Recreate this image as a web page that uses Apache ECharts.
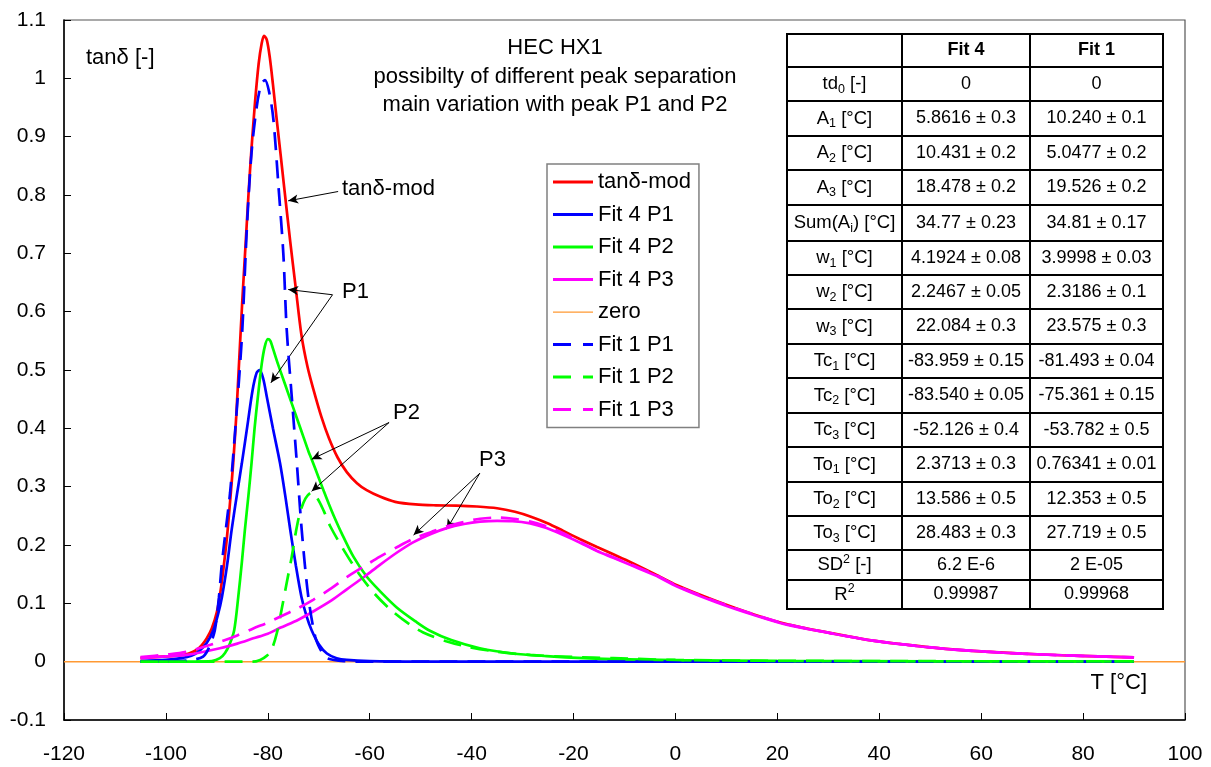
<!DOCTYPE html>
<html>
<head>
<meta charset="utf-8">
<script src="https://cdn.jsdelivr.net/npm/echarts@6/dist/echarts.min.js"></script>
<style>
html,body{margin:0;padding:0;background:#fff;}
#chart{width:1211px;height:767px;}
</style>
</head>
<body>
<div id="chart"></div>
<script>
// ---------------- DATA ----------------
const xTicks = { min: -120, max: 100, interval: 20 };
const yTicks = { min: -0.1, max: 1.1, interval: 0.1 };

const seriesNames = ['tanδ-mod','Fit 4 P1','Fit 4 P2','Fit 4 P3','zero','Fit 1 P1','Fit 1 P2','Fit 1 P3'];

const tanDeltaMod = [[-105,0.006],[-100,0.009],[-97,0.011],[-95.5,0.014],[-94,0.02],[-93,0.028],[-92,0.04],[-91,0.057],[-90,0.085],[-89.3,0.12],[-88.7,0.16],[-88,0.215],[-87.4,0.275],[-86.8,0.34],[-86.2,0.42],[-85.6,0.52],[-85,0.62],[-84.4,0.71],[-83.8,0.80],[-83.2,0.88],[-82.5,0.96],[-81.8,1.025],[-81.2,1.06],[-80.75,1.073],[-80.2,1.066],[-79.6,1.035],[-79,0.99],[-78.25,0.929],[-77.5,0.87],[-76.8,0.814],[-75.6,0.72],[-74.55,0.643],[-73.4,0.56],[-72.2,0.505],[-71,0.465],[-69.5,0.42],[-68,0.383],[-66.3,0.35],[-64.5,0.325],[-62.5,0.306],[-60.6,0.294],[-58,0.283],[-55,0.274],[-51,0.2695],[-47,0.268],[-43,0.2675],[-39,0.266],[-35,0.263],[-31.5,0.257],[-28.5,0.249],[-25,0.237],[-22,0.224],[-18.7,0.21],[-15.5,0.197],[-12.2,0.184],[-8.9,0.171],[-4,0.15],[0.3,0.131],[8,0.104],[15.4,0.081],[22,0.064],[30.5,0.049],[38,0.037],[45.6,0.0288],[53,0.022],[60.8,0.0172],[68,0.0138],[75.9,0.011],[83,0.009],[90,0.0075]];

const fit4P1 = [[-105,0.001],[-100,0.003],[-97,0.006],[-95,0.01],[-93.5,0.018],[-92,0.032],[-90.7,0.054],[-89.8,0.08],[-89,0.111],[-88,0.165],[-87.1,0.226],[-86,0.29],[-85.1,0.34],[-84,0.405],[-83,0.465],[-82.2,0.495],[-81.6,0.5],[-80.9,0.485],[-80.2,0.454],[-79,0.4],[-77.6,0.34],[-76.5,0.28],[-75.6,0.226],[-74.5,0.165],[-73.4,0.111],[-72.4,0.078],[-71.4,0.054],[-70,0.03],[-68.4,0.014],[-66.5,0.006],[-64.5,0.003],[-60,0.001],[-50,0.0002],[0,0],[90,0]];

const fit4P2 = [[-105,0],[-95,0],[-91,0.001],[-89.4,0.006],[-88.4,0.015],[-87.5,0.03],[-86.6,0.054],[-85.8,0.111],[-85.1,0.17],[-84.5,0.226],[-83.8,0.285],[-83.2,0.34],[-82.6,0.40],[-82,0.45],[-81.2,0.51],[-80.6,0.54],[-80,0.553],[-79.5,0.55],[-79,0.537],[-78,0.51],[-77,0.485],[-76,0.46],[-75,0.435],[-74,0.41],[-73,0.385],[-72,0.36],[-71.4,0.347],[-70,0.315],[-69,0.292],[-68,0.27],[-67,0.249],[-65.5,0.22],[-63.2,0.18],[-60.6,0.146],[-58,0.121],[-54.7,0.093],[-51,0.069],[-48.2,0.053],[-44,0.037],[-38.4,0.023],[-32,0.014],[-25.3,0.0095],[-18,0.006],[-12.2,0.0045],[0,0.0025],[20,0.0012],[50,0.0006],[90,0.0003]];

const fit4P3 = [[-105,0.006],[-100,0.009],[-95.9,0.0115],[-89.4,0.023],[-86,0.031],[-82.85,0.04],[-80,0.048],[-77.6,0.058],[-74,0.072],[-71.1,0.086],[-67.5,0.105],[-64.5,0.124],[-61,0.146],[-58,0.166],[-54.5,0.188],[-51.4,0.205],[-48,0.219],[-44.9,0.229],[-41.5,0.236],[-38.35,0.24],[-35,0.2415],[-32,0.241],[-28.5,0.237],[-25.3,0.229],[-22,0.217],[-18.7,0.204],[-15.5,0.19],[-12.2,0.178],[-8.9,0.166],[-4,0.148],[0.3,0.129],[8,0.102],[15.4,0.080],[22,0.063],[30.5,0.0486],[38,0.037],[45.6,0.0286],[53,0.022],[60.8,0.0171],[68,0.0137],[75.9,0.011],[83,0.009],[90,0.0075]];

const zeroLine = [[-120,0],[100,0]];

const fit1P1 = [[-105,0],[-98,0.001],[-95,0.003],[-92.7,0.0086],[-91.5,0.025],[-90.4,0.054],[-89.6,0.11],[-89.05,0.165],[-88.2,0.23],[-87.4,0.29],[-86.4,0.397],[-85.6,0.49],[-85,0.57],[-84.1,0.745],[-83.2,0.872],[-82.2,0.95],[-81.3,0.99],[-80.55,0.997],[-79.7,0.975],[-78.9,0.929],[-77.9,0.814],[-76.96,0.70],[-76.3,0.57],[-75.3,0.454],[-74.3,0.34],[-73.35,0.226],[-72.05,0.111],[-70.7,0.043],[-69.5,0.018],[-68.4,0.006],[-65,0.001],[-60,0],[90,0]];

const fit1P2 = [[-105,0],[-83,0],[-81.5,0.003],[-80.2,0.01],[-79.2,0.022],[-78.2,0.05],[-77.3,0.089],[-76.3,0.135],[-75.3,0.18],[-74.5,0.222],[-73.7,0.255],[-72.6,0.28],[-71.4,0.29],[-70.2,0.279],[-69,0.258],[-67.8,0.233],[-65,0.19],[-61.9,0.148],[-59,0.116],[-56,0.09],[-52.5,0.066],[-49.5,0.05],[-45,0.035],[-41,0.026],[-35,0.017],[-28.5,0.0115],[-20,0.008],[-12.2,0.006],[0,0.003],[20,0.0015],[50,0.0008],[90,0.0004]];

const fit1P3 = [[-105,0.008],[-100,0.012],[-95.9,0.017],[-89.4,0.034],[-86,0.045],[-82.85,0.057],[-80,0.067],[-77.6,0.077],[-74,0.092],[-71.1,0.106],[-67.5,0.126],[-64.5,0.145],[-61,0.164],[-58,0.18],[-54.5,0.197],[-51.4,0.211],[-48,0.222],[-44.9,0.232],[-41.5,0.2395],[-38.35,0.245],[-35,0.247],[-31.8,0.245],[-28.5,0.24],[-25.3,0.232],[-22,0.22],[-18.7,0.205],[-15.5,0.191],[-12.2,0.179],[-8.9,0.167],[-4,0.149],[0.3,0.13],[8,0.103],[15.4,0.081],[22,0.064],[30.5,0.049],[38,0.037],[45.6,0.0288],[53,0.022],[60.8,0.0172],[68,0.0138],[75.9,0.011],[83,0.009],[90,0.0075]];

// table texts
const tableHeader = ['', 'Fit 4', 'Fit 1'];
const tableLabels = ['td{s|0} [-]','A{s|1} [°C]','A{s|2} [°C]','A{s|3} [°C]','Sum(A{s|i}) [°C]','w{s|1} [°C]','w{s|2} [°C]','w{s|3} [°C]','Tc{s|1} [°C]','Tc{s|2} [°C]','Tc{s|3} [°C]','To{s|1} [°C]','To{s|2} [°C]','To{s|3} [°C]','SD{p|2} [-]','R{p|2}'];
const tableFit4 = ['0','5.8616 ± 0.3','10.431 ± 0.2','18.478 ± 0.2','34.77 ± 0.23','4.1924 ± 0.08','2.2467 ± 0.05','22.084 ± 0.3','-83.959 ± 0.15','-83.540 ± 0.05','-52.126 ± 0.4','2.3713 ± 0.3','13.586 ± 0.5','28.483 ± 0.3','6.2 E-6','0.99987'];
const tableFit1 = ['0','10.240 ± 0.1','5.0477 ± 0.2','19.526 ± 0.2','34.81 ± 0.17','3.9998 ± 0.03','2.3186 ± 0.1','23.575 ± 0.3','-81.493 ± 0.04','-75.361 ± 0.15','-53.782 ± 0.5','0.76341 ± 0.01','12.353 ± 0.5','27.719 ± 0.5','2 E-05','0.99968'];

const titleLines = ['HEC HX1','possibilty of different peak separation','main variation with peak P1 and P2'];

// annotations: label and arrows [[fromX,fromY],[toX,toY]] in data units
const annotations = [
  { text: 'tanδ-mod', arrows: [[[-66.2,0.806],[-76.0,0.790]]] },
  { text: 'P1', arrows: [[[-67.3,0.629],[-76.0,0.638]],[[-67.3,0.629],[-79.4,0.478]]] },
  { text: 'P2', arrows: [[[-56.2,0.410],[-71.4,0.347]],[[-56.2,0.410],[-71.4,0.292]]] },
  { text: 'P3', arrows: [[[-38.4,0.323],[-51.4,0.217]],[[-38.4,0.323],[-44.9,0.227]]] }
];

// ---------------- CHART ----------------
const FONT = 'Liberation Sans, Arial, sans-serif';
const chart = echarts.init(document.getElementById('chart'), null, { renderer: 'canvas' });

const colors = ['#FF0000','#0000FF','#00FF00','#FF00FF','#FF9933','#0000FF','#00FF00','#FF00FF'];
const dataSets = [tanDeltaMod, fit4P1, fit4P2, fit4P3, zeroLine, fit1P1, fit1P2, fit1P3];
const dashed = [false,false,false,false,false,true,true,true];

const ICON_SOLID = 'path://M0,0h40v3h-40z';
const ICON_DASH = 'path://M0,0h18v3h-18z M30,0h10v3h-10z';
const ICON_THIN = 'path://M0,1h40v1.3h-40z M0,0h0.01v0.01h-0.01z M39.99,2.99h0.01v0.01h-0.01z';

const markLineData = [];
annotations.forEach(a => a.arrows.forEach(ar => {
  markLineData.push([{ coord: ar[0] }, { coord: ar[1] }]);
}));

const series = seriesNames.map((n, i) => ({
  name: n,
  type: 'line',
  data: dataSets[i],
  showSymbol: false,
  symbol: 'none',
  smooth: i === 4 ? false : 0.3,
  clip: true,
  z: i === 4 ? 1 : 2 + i,
  color: colors[i],
  lineStyle: {
    color: colors[i],
    width: i === 4 ? 1.5 : 2.7,
    type: dashed[i] ? [18, 10] : 'solid'
  },
  emphasis: { disabled: true },
  animation: false
}));

series[4].markLine = {
  silent: true,
  symbol: ['none', 'arrow'],
  symbolSize: [7, 10],
  label: { show: false },
  lineStyle: { color: '#000', width: 1, type: 'solid' },
  emphasis: { disabled: true },
  data: markLineData,
  animation: false
};

// table graphic
const tblX = [787, 902, 1030, 1163];
const tblY = [34, 67, 101, 136, 170, 205, 241, 275, 309, 344, 378, 413, 447, 482, 516, 550, 580, 609];
const graphics = [];
graphics.push({ type: 'rect', shape: { x: tblX[0], y: tblY[0], width: tblX[3]-tblX[0], height: tblY[tblY.length-1]-tblY[0] }, style: { fill: '#fff', stroke: null }, z: 50 });
tblY.forEach(y => graphics.push({ type: 'line', shape: { x1: tblX[0]-1, y1: y, x2: tblX[3]+1, y2: y }, style: { stroke: '#000', lineWidth: 2 }, z: 52 }));
tblX.forEach(x => graphics.push({ type: 'line', shape: { x1: x, y1: tblY[0], x2: x, y2: tblY[tblY.length-1] }, style: { stroke: '#000', lineWidth: 2 }, z: 52 }));
const colC = [(tblX[0]+tblX[1])/2, (tblX[1]+tblX[2])/2, (tblX[2]+tblX[3])/2];
const rich = {
  s: { fontSize: 12.5, fontFamily: FONT, verticalAlign: 'bottom', lineHeight: 12, fill: '#000' },
  p: { fontSize: 12.5, fontFamily: FONT, verticalAlign: 'top', lineHeight: 12, fill: '#000' }
};
tableHeader.forEach((t, c) => {
  if (!t) return;
  graphics.push({ type: 'text', z: 53, style: { text: t, x: colC[c], y: (tblY[0]+tblY[1])/2, align: 'center', verticalAlign: 'middle', fontSize: 18, fontWeight: 'bold', fontFamily: FONT, fill: '#000' } });
});
for (let r = 0; r < tableLabels.length; r++) {
  const yc = (tblY[r+1] + tblY[r+2]) / 2;
  graphics.push({ type: 'text', z: 53, style: { text: tableLabels[r], rich: rich, x: colC[0], y: yc, align: 'center', verticalAlign: 'middle', fontSize: 18.5, lineHeight: 24, fontFamily: FONT, fill: '#000' } });
  graphics.push({ type: 'text', z: 53, style: { text: tableFit4[r], x: colC[1], y: yc, align: 'center', verticalAlign: 'middle', fontSize: 18, fontFamily: FONT, fill: '#000' } });
  graphics.push({ type: 'text', z: 53, style: { text: tableFit1[r], x: colC[2], y: yc, align: 'center', verticalAlign: 'middle', fontSize: 18, fontFamily: FONT, fill: '#000' } });
}
// title
titleLines.forEach((t, i) => graphics.push({ type: 'text', z: 40, style: { text: t, x: 555, y: 48 + i * 28.5, align: 'center', verticalAlign: 'middle', fontSize: 22, fontFamily: FONT, fill: '#000' } }));
// axis names
graphics.push({ type: 'text', z: 40, style: { text: 'tanδ [-]', x: 86, y: 58, align: 'left', verticalAlign: 'middle', fontSize: 22, fontFamily: FONT, fill: '#000' } });
graphics.push({ type: 'text', z: 40, style: { text: 'T [°C]', x: 1147, y: 683, align: 'right', verticalAlign: 'middle', fontSize: 22, fontFamily: FONT, fill: '#000' } });
// annotation labels
const annPos = [[342, 189], [342, 292], [393, 413], [479, 460]];
annotations.forEach((a, i) => graphics.push({ type: 'text', z: 40, style: { text: a.text, x: annPos[i][0], y: annPos[i][1], align: 'left', verticalAlign: 'middle', fontSize: 22, fontFamily: FONT, fill: '#000' } }));

const option = {
  animation: false,
  backgroundColor: '#fff',
  textStyle: { fontFamily: FONT },
  grid: { left: 64, right: 26, top: 20, bottom: 47, show: true, borderColor: '#555', borderWidth: 1.2, backgroundColor: 'transparent' },
  legend: {
    orient: 'vertical',
    left: 547, top: 164,
    data: seriesNames.map((n, i) => ({ name: n, icon: i === 4 ? ICON_THIN : (dashed[i] ? ICON_DASH : ICON_SOLID) })),
    itemWidth: 40, itemHeight: 3, itemGap: 10.5,
    padding: [7, 8, 7, 6],
    borderColor: '#808080', borderWidth: 1.5,
    backgroundColor: '#fff',
    itemStyle: { borderWidth: 0 },
    textStyle: { fontSize: 22, color: '#000', fontFamily: FONT, lineHeight: 22 },
    selectedMode: false
  },
  xAxis: {
    type: 'value', min: xTicks.min, max: xTicks.max, interval: xTicks.interval,
    axisLine: { show: true, onZero: false, lineStyle: { color: '#000', width: 1.5 } },
    axisTick: { show: true, inside: true, length: 7, lineStyle: { color: '#000', width: 1 } },
    axisLabel: { fontSize: 21, color: '#000', margin: 24, fontFamily: FONT },
    splitLine: { show: false }
  },
  yAxis: {
    type: 'value', min: yTicks.min, max: yTicks.max, interval: yTicks.interval,
    axisLine: { show: true, onZero: false, lineStyle: { color: '#000', width: 1.5 } },
    axisTick: { show: true, inside: true, length: 7, lineStyle: { color: '#000', width: 1 } },
    axisLabel: { fontSize: 21, color: '#000', margin: 18, fontFamily: FONT, formatter: v => String(Math.round(v * 10) / 10) },
    splitLine: { show: false }
  },
  series: series,
  graphic: graphics
};
chart.setOption(option);
</script>
</body>
</html>
